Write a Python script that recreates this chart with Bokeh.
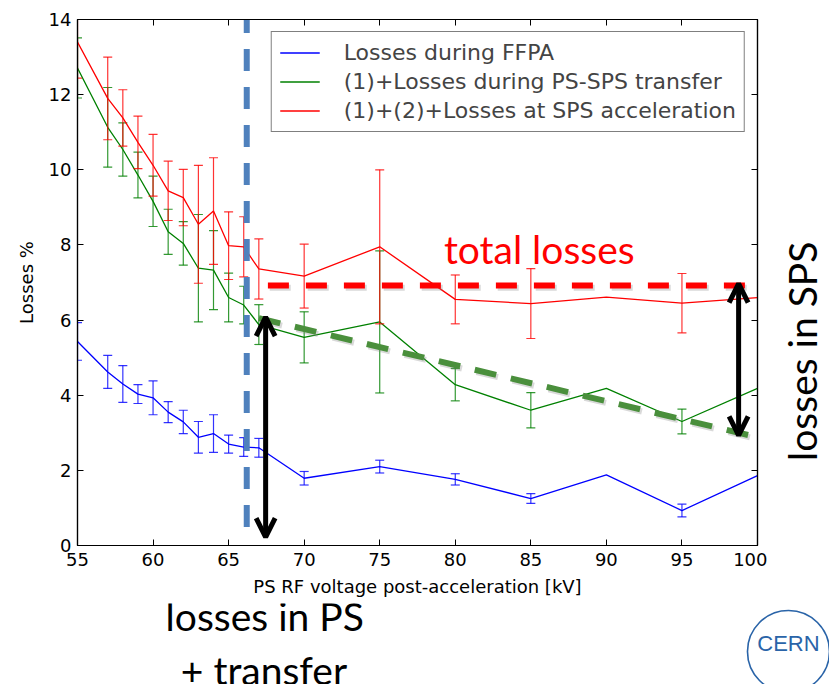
import numpy as np
from bokeh.plotting import figure
from bokeh.layouts import column, row
from bokeh.models import (LinearAxis, Range1d, FixedTicker, Legend, LegendItem,
                          Label, Arrow, OpenHead, ColumnDataSource)
from bokeh.core.properties import value
from bokeh.embed import file_html
from bokeh.resources import INLINE

# ---------------- data ----------------
voltage = [55, 57, 58, 59, 60, 61, 62, 63, 64, 65, 66, 67, 70, 75, 80, 85, 90, 95, 100]
nan = float("nan")

ffpa = [5.43, 4.62, 4.30, 4.03, 3.93, 3.55, 3.29, 2.88, 2.98, 2.70, 2.62, 2.60,
        1.79, 2.10, 1.76, 1.25, 1.88, 0.93, 1.86]
ffpa_err = [0.50, 0.44, 0.49, 0.25, 0.45, 0.28, 0.31, 0.42, 0.50, 0.24, 0.25, 0.25,
            0.18, 0.17, 0.15, 0.13, nan, 0.17, nan]

transfer = [12.71, 11.13, 10.54, 9.86, 9.16, 8.35, 8.04, 7.38, 7.33, 6.60, 6.40, 5.88,
            5.54, 5.95, 4.28, 3.60, 4.18, 3.30, 4.18]
transfer_err = [0.80, 1.06, 0.71, 0.61, 0.67, 0.60, 0.58, 1.43, 1.05, 0.65, 0.50, 0.53,
                0.68, 1.89, 0.43, 0.47, nan, 0.33, nan]

sps = [13.40, 11.90, 11.38, 10.73, 10.12, 9.44, 9.26, 8.55, 8.90, 7.98, 7.95, 7.36,
       7.17, 7.95, 6.55, 6.44, 6.61, 6.45, 6.60]
sps_err = [0.96, 1.10, 0.75, 0.70, 0.82, 0.79, 0.75, 1.57, 1.42, 0.90, 0.80, 0.80,
           0.85, 2.05, 0.65, 0.93, nan, 0.79, nan]

series_labels = ["Losses during FFPA",
                 "(1)+Losses during PS-SPS transfer",
                 "(1)+(2)+Losses at SPS acceleration"]

x_ticks = [55, 60, 65, 70, 75, 80, 85, 90, 95, 100]
y_ticks = [0, 2, 4, 6, 8, 10, 12, 14]

# slide annotations (data units: kV, Losses %)
ps_limit_x = [66.2, 66.2]
ps_limit_y = [0.49, 14.3]
total_line_x = [67.6, 99.3]
total_line_y = [6.92, 6.92]
trend_x = [67.0, 100.0]
trend_y = [6.05, 2.88]
ps_arrow = dict(x=67.45, y0=0.22, y1=6.08)
sps_arrow = dict(x=98.75, y0=2.93, y1=6.97)

total_text = dict(x=85.56, y=7.88, text="total losses")
sps_text = dict(x=102.96, y=5.17, text="losses in SPS")
ps_text = [dict(x=67.39, y=-1.87, text="losses in PS"),
           dict(x=67.34, y=-3.31, text="+ transfer")]
logo = dict(x=102.05, y=-2.62, ring_y=-2.82, text="CERN")

# ---------------- geometry ----------------
X0, X1, Y0, Y1 = 55, 100, 0, 14
FW, FH = 680, 526
LEFT, TOP, BOTTOM, RIGHT_GAP = 77, 19, 58, 10
W_TOTAL, H_TOTAL = 829, 684
kx = FW / (X1 - X0)
ky = FH / (Y1 - Y0)
SIDE_W = W_TOTAL - LEFT - FW - RIGHT_GAP
MAIN_H = TOP + FH + BOTTOM
FOOT_H = H_TOTAL - MAIN_H

# ---------------- main figure ----------------
p = figure(frame_width=FW, frame_height=FH,
           x_range=Range1d(X0, X1), y_range=Range1d(Y0, Y1),
           output_backend="svg", toolbar_location=None,
           min_border_left=LEFT, min_border_right=RIGHT_GAP,
           min_border_top=TOP, min_border_bottom=BOTTOM,
           background_fill_color="white", border_fill_color="white")
p.grid.visible = False
p.outline_line_color = "black"
p.outline_line_width = 1.2

TICK_FONT = "DejaVu Sans"


def style_axis(ax, ticks, labels=True):
    ax.ticker = FixedTicker(ticks=ticks)
    ax.axis_line_color = "black"
    ax.axis_line_width = 1.2
    ax.major_tick_in = 6
    ax.major_tick_out = 0
    ax.major_tick_line_color = "black"
    ax.minor_tick_line_color = None
    ax.major_label_text_font = TICK_FONT
    ax.major_label_text_color = "black"
    if labels:
        ax.major_label_text_font_size = "18px"
    else:
        ax.major_label_overrides = {t: "" for t in ticks}
        ax.major_label_text_font_size = "1px"
        ax.major_label_standoff = 0


xa = p.xaxis[0]
style_axis(xa, x_ticks)
xa.major_label_standoff = 7
xa.axis_label = "PS RF voltage post-acceleration [kV]"
xa.axis_label_text_font = TICK_FONT
xa.axis_label_text_font_size = "18px"
xa.axis_label_text_font_style = "normal"
xa.axis_label_text_color = "black"
xa.axis_label_standoff = 7

ya = p.yaxis[0]
style_axis(ya, y_ticks)
ya.major_label_standoff = 6
ya.axis_label = "Losses %"
ya.axis_label_text_font = TICK_FONT
ya.axis_label_text_font_size = "18px"
ya.axis_label_text_font_style = "normal"
ya.axis_label_text_color = "black"
ya.axis_label_standoff = 9

top_ax = LinearAxis()
style_axis(top_ax, x_ticks, labels=False)
p.add_layout(top_ax, "above")
right_ax = LinearAxis()
style_axis(right_ax, y_ticks, labels=False)
p.add_layout(right_ax, "right")

# ---------------- series with error bars ----------------
colors = ["#0000ff", "#008000", "#ff0000"]
legend_items = []
for vals, errs, col, lab in [(ffpa, ffpa_err, colors[0], series_labels[0]),
                             (transfer, transfer_err, colors[1], series_labels[1]),
                             (sps, sps_err, colors[2], series_labels[2])]:
    v = np.array(vals, dtype=float)
    e = np.array(errs, dtype=float)
    src = ColumnDataSource(dict(x=voltage, y=v, lo=v - e, hi=v + e))
    r = p.line("x", "y", source=src, line_color=col, line_width=1.3)
    p.segment(x0="x", y0="lo", x1="x", y1="hi", source=src,
              line_color=col, line_width=1.2, line_alpha=0.8)
    p.scatter("x", "lo", source=src, marker="dash", size=9,
              line_color=col, line_width=1.2, line_alpha=0.8)
    p.scatter("x", "hi", source=src, marker="dash", size=9,
              line_color=col, line_width=1.2, line_alpha=0.8)
    # legend helper: an empty quad whose dashed outline keeps only the
    # two vertical sides, giving the |-| error-bar key
    q = p.quad(left=[], right=[], top=[], bottom=[], fill_alpha=0,
               line_color=col, line_width=1.3, line_dash="0 32 20 32 20")
    legend_items.append(LegendItem(label=lab, renderers=[r, q]))

# ---------------- slide annotations ----------------
p.line([x + 0.12 for x in total_line_x], [y - 0.06 for y in total_line_y],
       line_color="#808080", line_alpha=0.3, line_width=6, line_dash="21 17")
p.line([x + 0.12 for x in trend_x], [y - 0.06 for y in trend_y],
       line_color="#808080", line_alpha=0.3, line_width=6, line_dash="22 15")
p.line(total_line_x, total_line_y, line_color="#ff0000", line_width=6, line_dash="21 17")
p.line(trend_x, trend_y, line_color="#4a8f3c", line_width=6, line_dash="22 15")
p.line(ps_limit_x, ps_limit_y, line_color="#4f81bd", line_width=6, line_dash="22 16")

for a in (ps_arrow, sps_arrow):
    p.add_layout(Arrow(x_start=a["x"], y_start=a["y0"], x_end=a["x"], y_end=a["y1"],
                       line_color="black", line_width=5,
                       start=OpenHead(size=19, line_width=5, line_color="black"),
                       end=OpenHead(size=19, line_width=5, line_color="black")))

SLIDE_FONT = "Lato"
p.add_layout(Label(x=total_text["x"], y=total_text["y"], text=total_text["text"],
                   text_font=SLIDE_FONT, text_font_size="39px", text_color="#ff0000",
                   text_align="center", text_baseline="alphabetic"))

legend = Legend(items=legend_items, location="top_right", margin=12, padding=8,
                spacing=4, glyph_width=40, glyph_height=25, label_height=22,
                label_standoff=24, label_text_font=TICK_FONT,
                label_text_font_size="22px", border_line_color="black",
                border_line_width=1.2, background_fill_color="white",
                background_fill_alpha=1.0)
p.add_layout(legend)

# ---------------- right side panel (frame aligned with the main frame) ----------------
side = figure(width=SIDE_W, height=MAIN_H,
              x_range=Range1d(X1 + RIGHT_GAP / kx, X1 + (RIGHT_GAP + SIDE_W) / kx),
              y_range=p.y_range,
              output_backend="svg", toolbar_location=None,
              x_axis_type=None, y_axis_type=None, min_border=0,
              outline_line_color=None, background_fill_color="white",
              border_fill_color="white")
side.grid.visible = False
side.text(x=[sps_text["x"]], y=[sps_text["y"]], text=[sps_text["text"]],
          angle=np.pi / 2, text_font=value(SLIDE_FONT), text_font_size="39px",
          text_color="black", text_align="center", text_baseline="middle")

# ---------------- footer (same kV / % scale) ----------------
foot = figure(width=W_TOTAL, height=FOOT_H,
              x_range=Range1d(X0 - LEFT / kx, X1 + (RIGHT_GAP + SIDE_W) / kx),
              y_range=Range1d(Y0 - (BOTTOM + FOOT_H) / ky, Y0 - BOTTOM / ky),
              output_backend="svg", toolbar_location=None,
              x_axis_type=None, y_axis_type=None, min_border=0,
              outline_line_color=None, background_fill_color="white",
              border_fill_color="white")
foot.grid.visible = False
foot.text(x=[t["x"] for t in ps_text], y=[t["y"] for t in ps_text],
          text=[t["text"] for t in ps_text], text_font=value(SLIDE_FONT),
          text_font_size="39px", text_color="black", text_align="center",
          text_baseline="alphabetic")
logo_blue = "#2a64a8"
foot.scatter([logo["x"]], [logo["ring_y"]], marker="circle", size=82,
             fill_alpha=0, line_color=logo_blue, line_width=1.6)
foot.text(x=[logo["x"]], y=[logo["y"]], text=[logo["text"]],
          text_font=value("Liberation Sans"), text_font_size="22px",
          text_color=logo_blue, text_align="center", text_baseline="middle")

layout = column(row(p, side, spacing=0), foot, spacing=0)
open("out.html", "w").write(file_html(layout, INLINE))
